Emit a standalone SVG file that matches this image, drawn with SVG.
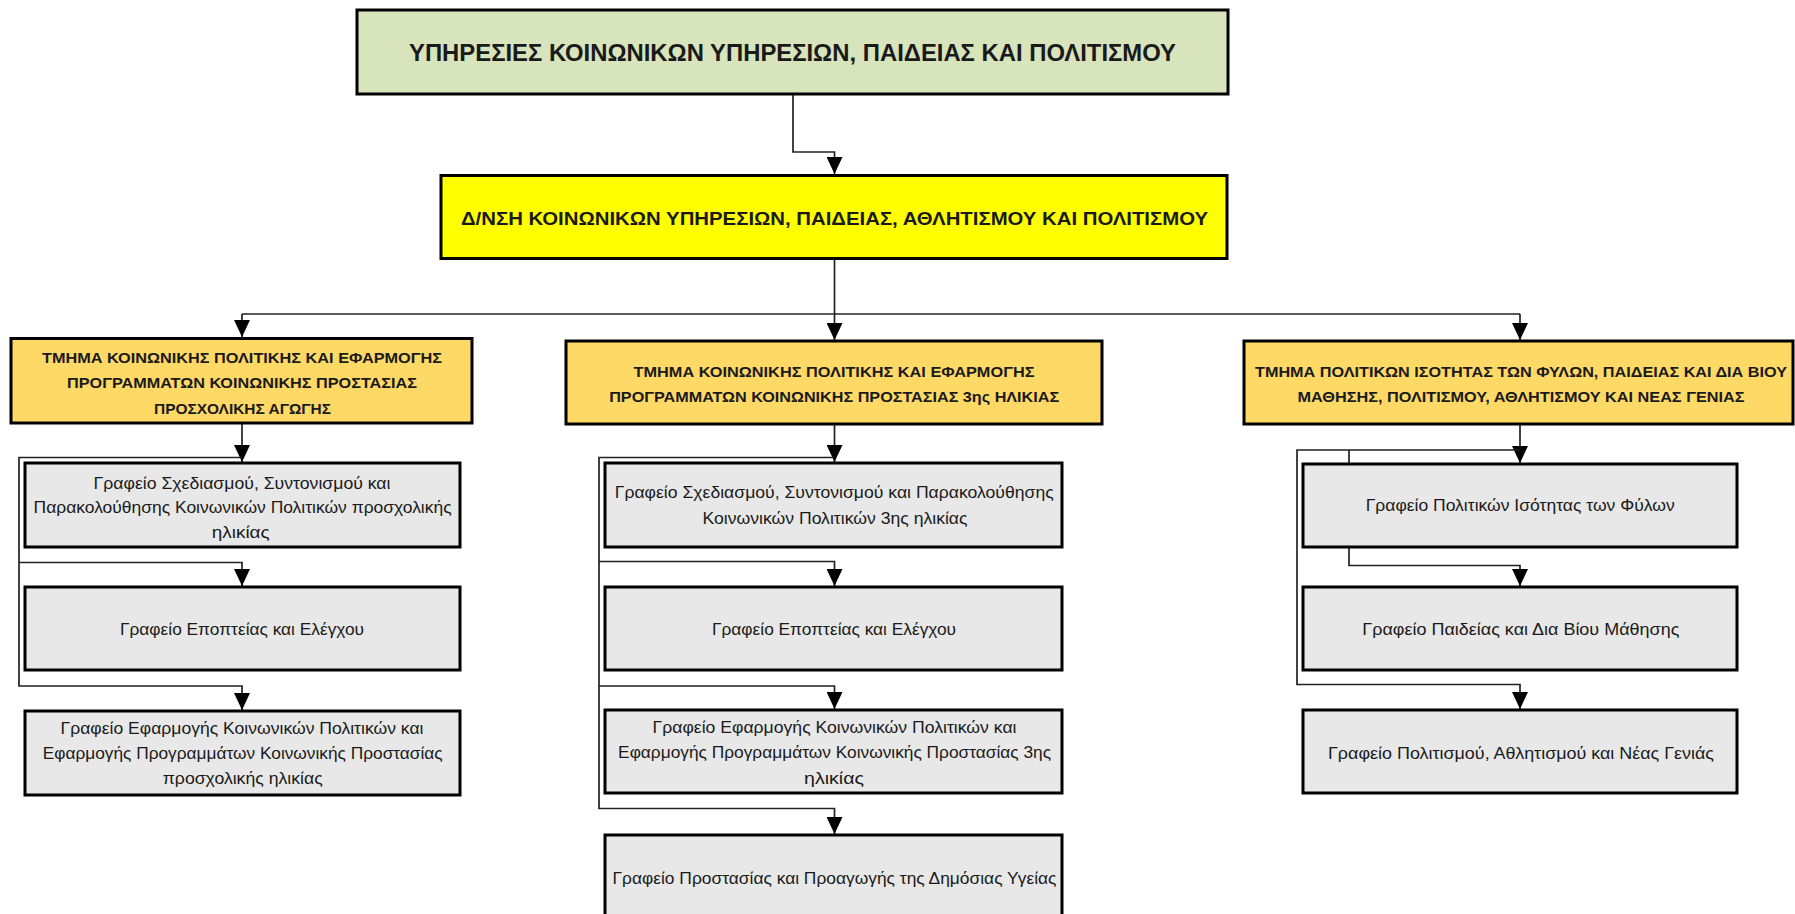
<svg xmlns="http://www.w3.org/2000/svg" width="1795" height="914" viewBox="0 0 1795 914">
<style>
.box{stroke:#000;stroke-width:3}
.g{fill:#d8e4bc}
.y{fill:#ffff00}
.o{fill:#ffd966}
.l{fill:#e8e8e8}
text{font-family:"Liberation Sans",Arial,sans-serif;fill:#1a1a1a;text-anchor:middle}
.b{font-weight:bold}
.t1{font-size:23px}
.t2{font-size:19px}
.t3{font-size:15.5px}
.t4{font-size:16.5px}
.c{fill:none;stroke:#222;stroke-width:1.7}
</style>
<defs>
<marker id="ah" viewBox="0 0 17 16" refX="17" refY="8" markerWidth="17" markerHeight="16" markerUnits="userSpaceOnUse" orient="auto">
<path d="M0,0 L17,8 L0,16 z" fill="#000"/>
</marker>
</defs>
<rect width="1795" height="914" fill="#fff"/>

<g id="connectors">
<path class="c" d="M793,95 V152 H834.5 V174" marker-end="url(#ah)"/>
<path class="c" d="M834.5,259 V340" marker-end="url(#ah)"/>
<path class="c" d="M242,314 H1520"/>
<path class="c" d="M242,314 V337" marker-end="url(#ah)"/>
<path class="c" d="M1520,314 V340" marker-end="url(#ah)"/>
<path class="c" d="M242,423 V462" marker-end="url(#ah)"/>
<path class="c" d="M242,457.5 H19 V686 H242 V710" marker-end="url(#ah)"/>
<path class="c" d="M19,562.5 H242 V586" marker-end="url(#ah)"/>
<path class="c" d="M834.5,424 V462" marker-end="url(#ah)"/>
<path class="c" d="M834.5,457.5 H599 V808.5 H834.5 V834" marker-end="url(#ah)"/>
<path class="c" d="M599,561.5 H834.5 V586" marker-end="url(#ah)"/>
<path class="c" d="M599,686 H834.5 V709" marker-end="url(#ah)"/>
<path class="c" d="M1520,424 V463" marker-end="url(#ah)"/>
<path class="c" d="M1520,450 H1297 V684.5 H1520 V709" marker-end="url(#ah)"/>
<path class="c" d="M1349,450 V464"/>
<path class="c" d="M1349,547 V565.5 H1520 V586" marker-end="url(#ah)"/>
</g>

<g id="n-top">
<rect class="box g" x="357" y="10" width="871" height="84"/>
<text class="b t1" x="792.5" y="61" textLength="767" lengthAdjust="spacingAndGlyphs">ΥΠΗΡΕΣΙΕΣ ΚΟΙΝΩΝΙΚΩΝ ΥΠΗΡΕΣΙΩΝ, ΠΑΙΔΕΙΑΣ ΚΑΙ ΠΟΛΙΤΙΣΜΟΥ</text>
</g>

<g id="n-dnsh">
<rect class="box y" x="441" y="175.5" width="786" height="83"/>
<text class="b t2" x="834.5" y="225" textLength="747" lengthAdjust="spacingAndGlyphs">Δ/ΝΣΗ ΚΟΙΝΩΝΙΚΩΝ ΥΠΗΡΕΣΙΩΝ, ΠΑΙΔΕΙΑΣ, ΑΘΛΗΤΙΣΜΟΥ ΚΑΙ ΠΟΛΙΤΙΣΜΟΥ</text>
</g>

<g id="n-tm1">
<rect class="box o" x="11" y="338.5" width="461" height="84.5"/>
<text class="b t3" x="242" y="362.7" textLength="400" lengthAdjust="spacingAndGlyphs">ΤΜΗΜΑ ΚΟΙΝΩΝΙΚΗΣ ΠΟΛΙΤΙΚΗΣ ΚΑΙ ΕΦΑΡΜΟΓΗΣ</text>
<text class="b t3" x="242" y="388" textLength="350" lengthAdjust="spacingAndGlyphs">ΠΡΟΓΡΑΜΜΑΤΩΝ ΚΟΙΝΩΝΙΚΗΣ ΠΡΟΣΤΑΣΙΑΣ</text>
<text class="b t3" x="242.5" y="414" textLength="177" lengthAdjust="spacingAndGlyphs">ΠΡΟΣΧΟΛΙΚΗΣ ΑΓΩΓΗΣ</text>
</g>

<g id="n-tm2">
<rect class="box o" x="566" y="341" width="536" height="83"/>
<text class="b t3" x="834" y="376.5" textLength="401" lengthAdjust="spacingAndGlyphs">ΤΜΗΜΑ ΚΟΙΝΩΝΙΚΗΣ ΠΟΛΙΤΙΚΗΣ ΚΑΙ ΕΦΑΡΜΟΓΗΣ</text>
<text class="b t3" x="834.2" y="401.5" textLength="450" lengthAdjust="spacingAndGlyphs">ΠΡΟΓΡΑΜΜΑΤΩΝ ΚΟΙΝΩΝΙΚΗΣ ΠΡΟΣΤΑΣΙΑΣ 3ης ΗΛΙΚΙΑΣ</text>
</g>

<g id="n-tm3">
<rect class="box o" x="1244" y="341" width="549" height="83"/>
<text class="b t3" x="1521" y="376.5" textLength="532" lengthAdjust="spacingAndGlyphs">ΤΜΗΜΑ ΠΟΛΙΤΙΚΩΝ ΙΣΟΤΗΤΑΣ ΤΩΝ ΦΥΛΩΝ, ΠΑΙΔΕΙΑΣ ΚΑΙ ΔΙΑ ΒΙΟΥ</text>
<text class="b t3" x="1521" y="402" textLength="447" lengthAdjust="spacingAndGlyphs">ΜΑΘΗΣΗΣ, ΠΟΛΙΤΙΣΜΟΥ, ΑΘΛΗΤΙΣΜΟΥ ΚΑΙ ΝΕΑΣ ΓΕΝΙΑΣ</text>
</g>

<g id="n-l1">
<rect class="box l" x="25" y="463" width="435" height="84"/>
<text class="t4" x="242" y="488.5" textLength="297" lengthAdjust="spacingAndGlyphs">Γραφείο Σχεδιασμού, Συντονισμού και</text>
<text class="t4" x="242.6" y="513" textLength="418" lengthAdjust="spacingAndGlyphs">Παρακολούθησης Κοινωνικών Πολιτικών προσχολικής</text>
<text class="t4" x="240.7" y="538" textLength="58" lengthAdjust="spacingAndGlyphs">ηλικίας</text>
</g>

<g id="n-l2">
<rect class="box l" x="25" y="587" width="435" height="83"/>
<text class="t4" x="242" y="635" textLength="244" lengthAdjust="spacingAndGlyphs">Γραφείο Εποπτείας και Ελέγχου</text>
</g>

<g id="n-l3">
<rect class="box l" x="25" y="711" width="435" height="84"/>
<text class="t4" x="242" y="734" textLength="363" lengthAdjust="spacingAndGlyphs">Γραφείο Εφαρμογής Κοινωνικών Πολιτικών και</text>
<text class="t4" x="242.7" y="758.7" textLength="400" lengthAdjust="spacingAndGlyphs">Εφαρμογής Προγραμμάτων Κοινωνικής Προστασίας</text>
<text class="t4" x="242.7" y="784" textLength="160" lengthAdjust="spacingAndGlyphs">προσχολικής ηλικίας</text>
</g>

<g id="n-c1">
<rect class="box l" x="605" y="463" width="457" height="84"/>
<text class="t4" x="834.2" y="498.4" textLength="439" lengthAdjust="spacingAndGlyphs">Γραφείο Σχεδιασμού, Συντονισμού και Παρακολούθησης</text>
<text class="t4" x="835" y="524" textLength="265" lengthAdjust="spacingAndGlyphs">Κοινωνικών Πολιτικών 3ης ηλικίας</text>
</g>

<g id="n-c2">
<rect class="box l" x="605" y="587" width="457" height="83"/>
<text class="t4" x="834" y="635" textLength="244" lengthAdjust="spacingAndGlyphs">Γραφείο Εποπτείας και Ελέγχου</text>
</g>

<g id="n-c3">
<rect class="box l" x="605" y="710" width="457" height="83"/>
<text class="t4" x="834.5" y="733" textLength="364" lengthAdjust="spacingAndGlyphs">Γραφείο Εφαρμογής Κοινωνικών Πολιτικών και</text>
<text class="t4" x="834.6" y="758" textLength="433" lengthAdjust="spacingAndGlyphs">Εφαρμογής Προγραμμάτων Κοινωνικής Προστασίας 3ης</text>
<text class="t4" x="834" y="784" textLength="60" lengthAdjust="spacingAndGlyphs">ηλικίας</text>
</g>

<g id="n-c4">
<rect class="box l" x="605" y="835" width="457" height="84"/>
<text class="t4" x="834.5" y="884" textLength="444" lengthAdjust="spacingAndGlyphs">Γραφείο Προστασίας και Προαγωγής της Δημόσιας Υγείας</text>
</g>

<g id="n-r1">
<rect class="box l" x="1303" y="464" width="434" height="83"/>
<text class="t4" x="1520.2" y="511" textLength="309" lengthAdjust="spacingAndGlyphs">Γραφείο Πολιτικών Ισότητας των Φύλων</text>
</g>

<g id="n-r2">
<rect class="box l" x="1303" y="587" width="434" height="83"/>
<text class="t4" x="1520.8" y="635" textLength="317" lengthAdjust="spacingAndGlyphs">Γραφείο Παιδείας και Δια Βίου Μάθησης</text>
</g>

<g id="n-r3">
<rect class="box l" x="1303" y="710" width="434" height="83"/>
<text class="t4" x="1521" y="759" textLength="386" lengthAdjust="spacingAndGlyphs">Γραφείο Πολιτισμού, Αθλητισμού και Νέας Γενιάς</text>
</g>
</svg>
